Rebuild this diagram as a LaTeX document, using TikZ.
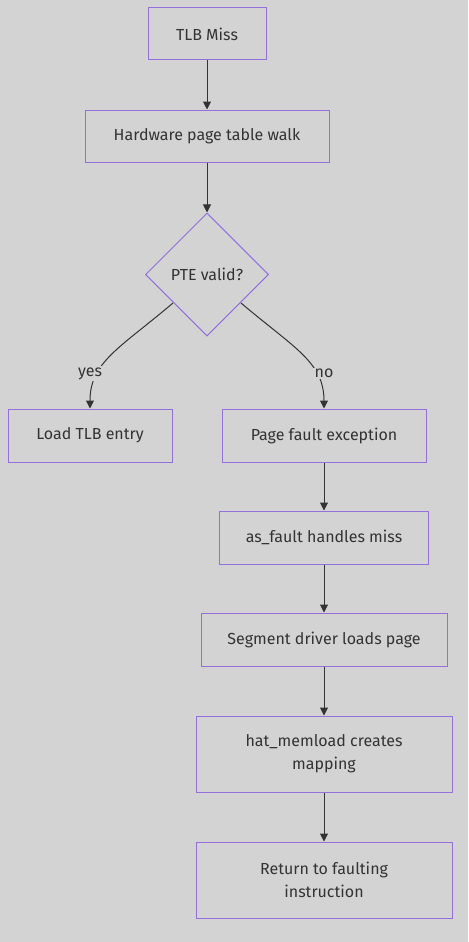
\documentclass[tikz,border=0pt]{standalone}
\usepackage{fontspec}
\setmainfont{Fira Sans}
\usetikzlibrary{shapes.geometric,arrows.meta}
\definecolor{bg}{HTML}{D3D3D3}
\definecolor{bord}{HTML}{9370DB}
\definecolor{txt}{HTML}{333333}
\begin{document}
\begin{tikzpicture}[x=0.75pt,y=-0.75pt,
  box/.style={draw=bord,line width=0.75pt,fill=bg,text=txt,align=center,
    inner sep=0pt,font=\fontsize{12}{17.25}\selectfont},
  dec/.style={draw=bord,line width=0.75pt,fill=bg,text=txt,shape=diamond,
    inner sep=0pt,minimum width=92.25pt,minimum height=92.25pt,
    font=\fontsize{12}{17.25}\selectfont},
  arr/.style={draw=txt,line width=0.75pt,-{Triangle[length=6pt,width=6pt]}},
  lbl/.style={fill=bg,text=txt,inner sep=1pt,font=\fontsize{12}{15}\selectfont}]
\fill[bg] (0,0) rectangle (468,942);
\useasboundingbox (0,0) rectangle (468,942);
\node[box,minimum width=88.5pt,minimum height=39pt] (a) at (207,34) {TLB Miss};
\node[box,minimum width=183pt,minimum height=39pt] (b) at (207,136) {Hardware page table walk};
\node[dec] (c) at (207,274.5) {PTE valid?};
\node[box,minimum width=123pt,minimum height=39.75pt] (d) at (90,435.5) {Load TLB entry};
\node[box,minimum width=153pt,minimum height=39.75pt] (e) at (324,435.5) {Page fault exception};
\node[box,minimum width=156.75pt,minimum height=39.75pt] (f) at (324,537.5) {as\_fault handles miss};
\node[box,minimum width=184.5pt,minimum height=39.75pt] (g) at (324,639.5) {Segment driver loads page};
\node[box,minimum width=192pt,minimum height=57pt] (h) at (324,754) {hat\_memload creates\\mapping};
\node[box,minimum width=192pt,minimum height=57pt] (i) at (324,880) {Return to faulting\\instruction};
\coordinate (cl) at (173,303);
\coordinate (cr) at (241,303);
\draw[arr] (a) -- (b);
\draw[arr] (b) -- (c);
\draw[arr] (cl) .. controls (120,348) and (90,362) .. (d.north);
\draw[arr] (cr) .. controls (294,348) and (324,362) .. (e.north);
\node[lbl] (ly) at (90,373.5) {yes};
\node[lbl] (ln) at (324,373.5) {no};
\draw[arr] (e) -- (f);
\draw[arr] (f) -- (g);
\draw[arr] (g) -- (h);
\draw[arr] (h) -- (i);
\end{tikzpicture}
\end{document}
